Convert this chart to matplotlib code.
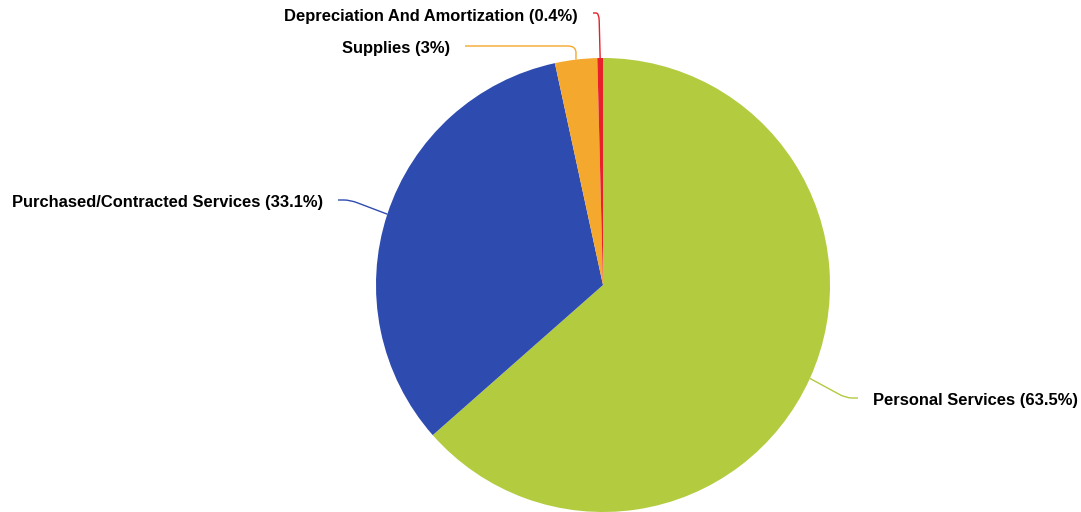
#!/usr/bin/env python3
"""Expense breakdown pie with crooked connector labels. Writes out.png"""

import numpy as np
import matplotlib
matplotlib.use("Agg")
import matplotlib.pyplot as plt
from matplotlib.path import Path
from matplotlib.patches import PathPatch

categories = [
    "Personal Services",
    "Purchased/Contracted Services",
    "Supplies",
    "Depreciation And Amortization",
]
shares = [63.5, 33.1, 3.0, 0.4]
share_labels = ["63.5%", "33.1%", "3%", "0.4%"]
colors = ["#B2CB3F", "#2E4BAF", "#F5A82E", "#E8202A"]

W, H = 1081, 512
CENTER = (603, 285)   # pixel coords, y down
RADIUS = 227

# label layout in pixel coords (y down): connector end x, y, crook x, side
LABEL_LAYOUT = [
    (858, 398, 846, "left"),
    (338, 200, 350, "right"),
    (465, 46, 576, "right"),
    (593, 13, 599, "right"),
]
TEXT_GAP = 15


def flip(y):
    return H - y


def crooked_path(p_end, p_crook, p_edge, rad=8.0):
    p_end, p_crook, p_edge = map(np.asarray, (p_end, p_crook, p_edge))
    d1 = p_end - p_crook
    d2 = p_edge - p_crook
    r1 = min(rad, np.linalg.norm(d1) / 2) if np.linalg.norm(d1) > 0 else 0
    r2 = min(rad, np.linalg.norm(d2) / 2) if np.linalg.norm(d2) > 0 else 0
    a = p_crook + (d1 / np.linalg.norm(d1) * r1 if r1 else 0)
    b = p_crook + (d2 / np.linalg.norm(d2) * r2 if r2 else 0)
    verts = [p_end, a, p_crook, b, p_edge]
    codes = [Path.MOVETO, Path.LINETO, Path.CURVE3, Path.CURVE3, Path.LINETO]
    return Path(verts, codes)


def main() -> None:
    plt.rcParams["font.family"] = ["Liberation Sans", "DejaVu Sans"]
    fig = plt.figure(figsize=(W / 100, H / 100), dpi=100)
    ax = fig.add_axes([0, 0, 1, 1])

    cx, cy = CENTER[0], flip(CENTER[1])
    wedges, _ = ax.pie(
        shares,
        colors=colors,
        startangle=90,
        counterclock=False,
        center=(cx, cy),
        radius=RADIUS,
        wedgeprops=dict(linewidth=0),
    )
    ax.set_xlim(0, W)
    ax.set_ylim(0, H)
    ax.set_aspect("equal")
    ax.axis("off")

    for w, name, lab, col, (lx, ly, kx, side) in zip(
        wedges, categories, share_labels, colors, LABEL_LAYOUT
    ):
        ang = np.deg2rad((w.theta1 + w.theta2) / 2)
        edge = (cx + RADIUS * np.cos(ang), cy + RADIUS * np.sin(ang))
        path = crooked_path((lx, flip(ly)), (kx, flip(ly)), edge)
        ax.add_patch(PathPatch(path, facecolor="none", edgecolor=col, lw=1.0))
        tx = lx + TEXT_GAP if side == "left" else lx - TEXT_GAP
        ax.text(tx, flip(ly) - 3, f"{name} ({lab})", ha=side, va="center",
                fontsize=11.9, fontweight="bold", color="#000000")

    fig.savefig("out.png", dpi=100)
    plt.close(fig)


if __name__ == "__main__":
    main()
